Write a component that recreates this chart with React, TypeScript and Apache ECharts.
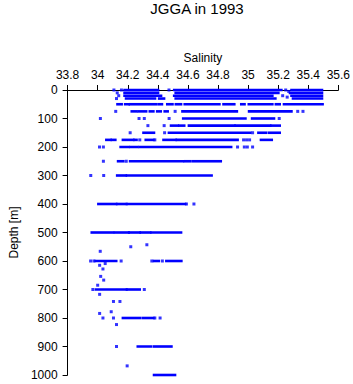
import React, { useEffect, useRef } from "react";
import * as echarts from "echarts";

// Salinity tick labels (x axis, on top) and depth tick labels (y axis)
const salinityTicks = [33.8, 34, 34.2, 34.4, 34.6, 34.8, 35, 35.2, 35.4, 35.6];
const depthTicks = [0, 100, 200, 300, 400, 500, 600, 700, 800, 900, 1000];

// Runs of densely packed samples: [salinity from, salinity to, depth m]
const surfaceRuns = [
  [34.18, 34.4, 0], [34.51, 35.22, 0], [35.29, 35.49, 0],
  [34.18, 34.4, 10], [34.52, 35.2, 10], [35.28, 35.49, 10],
  [34.18, 34.42, 20], [34.51, 35.16, 20], [35.29, 35.49, 20],
  [34.19, 34.38, 30], [34.41, 34.44, 30], [34.52, 35.18, 30], [35.3, 35.49, 30],
];

const upperRuns = [
  [34.133, 34.158, 50], [34.184, 34.205, 50], [34.215, 34.39, 50], [34.411, 34.426, 50],
  [34.464, 34.496, 50], [34.521, 34.553, 50], [34.58, 34.808, 50], [34.838, 34.907, 50],
  [34.956, 34.975, 50], [35.006, 35.16, 50], [35.186, 35.209, 50], [35.24, 35.494, 50],
  [34.228, 34.257, 75], [34.274, 34.321, 75], [34.348, 34.369, 75], [34.397, 34.418, 75],
  [34.447, 34.464, 75], [34.565, 34.924, 75], [35.008, 35.287, 75],
  [34.57, 34.981, 100], [35.028, 35.171, 100],
  [34.489, 34.532, 125], [34.544, 34.574, 125], [34.608, 34.908, 125], [34.918, 35.146, 125],
  [35.156, 35.209, 125],
  [34.306, 34.373, 150], [34.475, 35.013, 150], [35.07, 35.118, 150], [35.14, 35.209, 150],
  [34.059, 34.085, 175], [34.095, 34.116, 175], [34.169, 34.236, 175], [34.245, 34.257, 175],
  [34.321, 34.369, 175], [34.439, 34.517, 175], [34.527, 34.929, 175], [35.087, 35.156, 175],
  [34.154, 34.205, 200], [34.221, 34.264, 200], [34.281, 34.886, 200],
];

const deepRuns = [
  [34.137, 34.169, 250], [34.217, 34.565, 250], [34.58, 34.616, 250], [34.637, 34.817, 250],
  [34.131, 34.186, 300], [34.196, 34.756, 300],
  [34.006, 34.122, 400], [34.131, 34.19, 400], [34.196, 34.58, 400],
  [33.962, 34.101, 500], [34.116, 34.205, 500], [34.211, 34.278, 500], [34.287, 34.348, 500],
  [34.359, 34.553, 500],
  [33.987, 34.122, 600], [34.376, 34.405, 600], [34.458, 34.555, 600],
  [33.99, 34.19, 700], [34.196, 34.278, 700],
  [34.169, 34.278, 800], [34.3, 34.369, 800],
  [34.268, 34.354, 900], [34.376, 34.489, 900],
  [34.376, 34.513, 1000],
];

// Isolated samples: [salinity, depth m]
const surfacePoints = [
  [34.108, 0], [34.158, 0], [34.474, 0], [35.25, 0], [35.27, 5],
  [34.13, 10], [34.14, 20], [34.125, 30], [35.23, 20], [35.26, 25],
];

const upperPoints = [
  [34.12, 75], [34.515, 75], [35.33, 75], [35.365, 75],
  [34.018, 100], [34.275, 100], [34.31, 100], [34.475, 100], [35.207, 100],
  [34.334, 125], [34.442, 125],
  [34.216, 150], [34.445, 150], [35.03, 150],
  [34.28, 175], [34.38, 175], [34.97, 175], [34.99, 175], [35.01, 175],
  [34.012, 200], [34.038, 200], [34.93, 200], [34.975, 200], [34.995, 200], [35.03, 200],
];

const deepPoints = [
  [34.038, 250], [34.19, 250],
  [33.954, 300], [34.04, 300],
  [34.59, 400], [34.64, 400],
  [34.327, 543], [34.22, 550], [34.017, 566],
  [33.953, 600], [33.975, 600], [34.156, 600], [34.36, 600], [34.43, 600],
  [34.05, 609], [34.013, 615], [34.035, 628], [34.02, 654], [34.04, 667], [34.0, 685],
  [33.968, 700], [34.31, 700], [34.013, 717], [34.105, 742], [34.148, 742],
  [34.09, 778], [34.013, 784],
  [34.035, 800], [34.105, 800], [34.38, 800], [34.415, 800],
  [34.125, 823], [34.125, 900], [34.196, 968],
];

const BLUE = "#0000ff";
const FONT = "Liberation Sans";

export default function App() {
  const ref = useRef<HTMLDivElement>(null);

  useEffect(() => {
    if (!ref.current) return;
    const chart = echarts.init(ref.current, undefined, { renderer: "svg" });
    const runs = [...surfaceRuns, ...upperRuns, ...deepRuns];
    const points = [...surfacePoints, ...upperPoints, ...deepPoints];

    chart.setOption({
      animation: false,
      backgroundColor: "#ffffff",
      graphic: [
        {
          type: "text",
          x: 197,
          y: 1,
          style: {
            text: "JGGA in 1993",
            font: `15px "${FONT}"`,
            fill: "#000",
            textAlign: "center",
            textVerticalAlign: "top",
          },
        },
      ],
      grid: { left: 53, right: 13.5, top: 90, bottom: 9, containLabel: false },
      xAxis: {
        type: "value",
        position: "top",
        min: salinityTicks[0],
        max: salinityTicks[salinityTicks.length - 1],
        interval: 0.2,
        name: "Salinity",
        nameLocation: "middle",
        nameGap: 24,
        nameTextStyle: { fontFamily: FONT, fontSize: 12, color: "#000" },
        axisLine: { show: true, lineStyle: { color: "#000", width: 1 } },
        axisTick: { show: true, length: 5, lineStyle: { color: "#000" } },
        axisLabel: {
          fontFamily: FONT,
          fontSize: 12,
          color: "#000",
          margin: 9,
          showMinLabel: true,
          showMaxLabel: true,
          formatter: (v: number) => String(Math.round(v * 10) / 10),
        },
        splitLine: { show: false },
      },
      yAxis: {
        type: "value",
        inverse: true,
        min: depthTicks[0],
        max: depthTicks[depthTicks.length - 1],
        interval: 100,
        name: "Depth [m]",
        nameLocation: "middle",
        nameGap: 41,
        nameTextStyle: { fontFamily: FONT, fontSize: 12, color: "#000" },
        axisLine: { show: true, lineStyle: { color: "#000", width: 1 } },
        axisTick: { show: true, length: 5, lineStyle: { color: "#000" } },
        axisLabel: {
          fontFamily: FONT,
          fontSize: 12,
          color: "#000",
          margin: 10,
          formatter: (v: number) => String(v),
        },
        splitLine: { show: false },
      },
      series: [
        {
          type: "custom",
          coordinateSystem: "cartesian2d",
          data: runs,
          encode: { x: [0, 1], y: 2 },
          clip: false,
          renderItem: (_params: any, api: any) => {
            const p1 = api.coord([api.value(0), api.value(2)]);
            const p2 = api.coord([api.value(1), api.value(2)]);
            return {
              type: "rect",
              shape: {
                x: p1[0] - 1.5,
                y: p1[1] - 1.3,
                width: p2[0] - p1[0] + 3,
                height: 2.6,
              },
              style: { fill: BLUE },
            };
          },
        },
        {
          type: "scatter",
          data: points,
          symbol: "rect",
          symbolSize: 3,
          itemStyle: { color: BLUE },
          clip: false,
        },
      ],
    });

    return () => chart.dispose();
  }, []);

  return (
    <div
      ref={ref}
      style={{ position: "fixed", left: 0, top: 0, width: 353, height: 384, background: "#fff" }}
    />
  );
}
